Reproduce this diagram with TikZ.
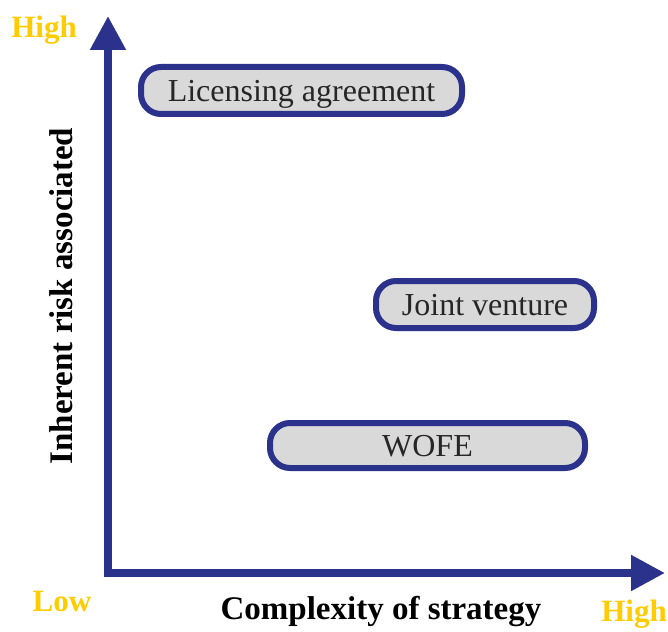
\documentclass[tikz,border=0pt]{standalone}
\usepackage{fontspec}
\setmainfont{Liberation Serif}
\usetikzlibrary{arrows.meta}
\definecolor{axisblue}{RGB}{43,50,140}
\definecolor{levelgold}{RGB}{255,204,0}
\definecolor{boxgray}{RGB}{217,217,217}
\begin{document}
\begin{tikzpicture}[x = 1pt, y = -1pt,
  strategy/.style = {draw = axisblue, line width = 6pt, fill = boxgray, rounded corners = 20pt,
    inner sep = 0pt, text height = 26pt, text depth = 4pt, text = black!85,
    font = \fontsize{32}{34}\selectfont},
  level/.style = {text = levelgold, font = \bfseries\fontsize{31}{33}\selectfont},
  axistitle/.style = {font = \bfseries\fontsize{33}{35}\selectfont}]
\useasboundingbox (0,0) rectangle (668,631);
\coordinate (origin) at (108,573);
\coordinate (xend) at (665,573);
\coordinate (yend) at (108,16);
\draw [axisblue, line width = 8pt, line join = miter,
  {Triangle[length = 34pt, width = 34pt]}-{Triangle[length = 34pt, width = 34pt]}]
  (yend) -- (origin) -- (xend);
\node [level] (yhigh) at (44,30) {High};
\node [level] (xlow) at (62,601) {Low};
\node [level] (xhigh) at (634,614) {High};
\node [axistitle] (xtitle) at (381,612) {Complexity of strategy};
\node [axistitle, rotate = 90] (ytitle) at (61,296) {Inherent risk associated};
\node [strategy, minimum width = 321pt, minimum height = 47pt] (licensing) at (301.5,90.5) {Licensing agreement};
\node [strategy, minimum width = 218pt, minimum height = 47pt] (joint) at (485,304.5) {Joint venture};
\node [strategy, minimum width = 315pt, minimum height = 45pt] (wofe) at (427.5,445.5) {WOFE};
\end{tikzpicture}
\end{document}
